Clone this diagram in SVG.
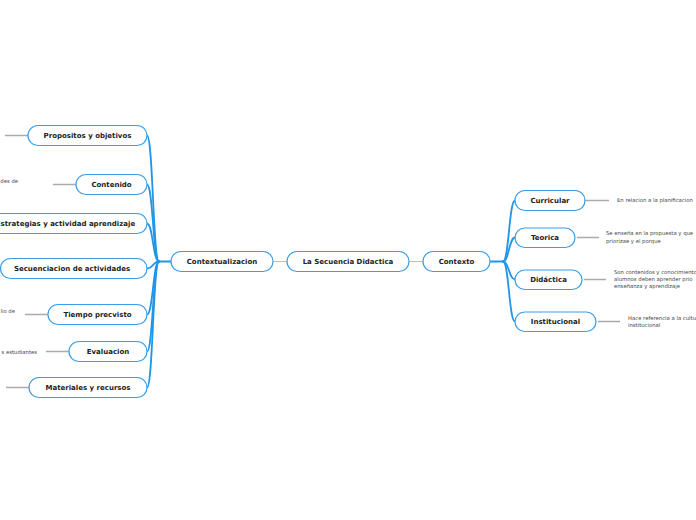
<svg xmlns="http://www.w3.org/2000/svg" width="696" height="520" viewBox="0 0 696 520">
<style>
.n rect{fill:#fff;stroke:#3a9de6;stroke-width:1.2}
.n text{font-family:"DejaVu Sans",Verdana,sans-serif;font-weight:bold;font-size:7px;fill:#222;text-anchor:middle;dominant-baseline:central}
.b{fill:none;stroke:#2196e8;stroke-width:1.8;stroke-linecap:round}
.c{fill:none;stroke:#9cc8ec;stroke-width:1.2}
.l{fill:none;stroke:#aaaaaa;stroke-width:1.3}
.t{font-family:"DejaVu Sans",Verdana,sans-serif;font-size:5.3px;fill:#444}
</style>
<rect width="696" height="520" fill="#fff"/>
<g id="connectors">
<path class="c" d="M273,261.5 L287,261.5 M409,261.5 L423,261.5"/>
<path class="b" d="M171,261.5 L159,261.5"/>
<path class="b" d="M159,261.5 C153,261.5 153,135.5 147,135.5"/>
<path class="b" d="M159,261.5 C153,261.5 153,184.5 147,184.5"/>
<path class="b" d="M159,261.5 C153,261.5 153,223.5 147,223.5"/>
<path class="b" d="M159,261.5 C153,261.5 153,268.5 147,268.5"/>
<path class="b" d="M159,261.5 C153,261.5 153,314.5 147,314.5"/>
<path class="b" d="M159,261.5 C153,261.5 153,351.5 147,351.5"/>
<path class="b" d="M159,261.5 C153,261.5 153,387.5 147,387.5"/>
<path class="b" d="M490,261.5 L503,261.5"/>
<path class="b" d="M503,261.5 C509,261.5 509,200.5 515,200.5"/>
<path class="b" d="M503,261.5 C509,261.5 509,237.5 515,237.5"/>
<path class="b" d="M503,261.5 C509,261.5 509,279.5 515,279.5"/>
<path class="b" d="M503,261.5 C509,261.5 509,321.5 515,321.5"/>
<path class="l" d="M5,135.5 L28,135.5 M53,184.5 L76,184.5 M25,314.5 L48,314.5 M46,351.5 L69,351.5 M6,387.5 L29,387.5"/>
<path class="l" d="M585,200.5 L609,200.5 M577,237.5 L599,237.5 M584,279.5 L606,279.5 M598,321.5 L620,321.5"/>
</g>
<g id="central" class="n"><rect x="287" y="251.5" width="122" height="20" rx="10"/><text x="348" y="262">La Secuencia Didactica</text></g>
<g id="contextualizacion" class="n"><rect x="171" y="251.5" width="102" height="20" rx="10"/><text x="222" y="262">Contextualizacion</text></g>
<g id="contexto" class="n"><rect x="423" y="251.5" width="67" height="20" rx="10"/><text x="456.5" y="262">Contexto</text></g>
<g id="propositos" class="n"><rect x="28" y="125.5" width="119" height="20" rx="10"/><text x="87.5" y="136">Propositos y objetivos</text></g>
<g id="contenido" class="n"><rect x="76" y="174.5" width="71" height="20" rx="10"/><text x="111.5" y="185">Contenido</text></g>
<g id="estrategias" class="n"><rect x="-16" y="213.5" width="163" height="20" rx="10"/><text x="65.5" y="224">Estrategias y actividad aprendizaje</text></g>
<g id="secuenciacion" class="n"><rect x="0.5" y="258.5" width="146.5" height="20" rx="10"/><text x="72" y="269">Secuenciacion de actividades</text></g>
<g id="tiempo" class="n"><rect x="48" y="304.5" width="99" height="20" rx="10"/><text x="97.5" y="315">Tiempo precvisto</text></g>
<g id="evaluacion" class="n"><rect x="69" y="341.5" width="78" height="20" rx="10"/><text x="108" y="352">Evaluacion</text></g>
<g id="materiales" class="n"><rect x="29" y="377.5" width="118" height="20" rx="10"/><text x="88" y="388">Materiales y recursos</text></g>
<g id="curricular" class="n"><rect x="515" y="190.5" width="70" height="20" rx="10"/><text x="550" y="201">Curricular</text></g>
<g id="teorica" class="n"><rect x="515" y="228" width="60" height="19.5" rx="9.75"/><text x="545" y="238">Teorica</text></g>
<g id="didactica" class="n"><rect x="515" y="270" width="67" height="19.5" rx="9.75"/><text x="548.5" y="280">Didáctica</text></g>
<g id="institucional" class="n"><rect x="515" y="312" width="81" height="19.5" rx="9.75"/><text x="555.5" y="322">Institucional</text></g>
<g id="leaves">
<text class="t" x="18" y="183" text-anchor="end">des de</text>
<text class="t" x="15" y="313" text-anchor="end">lio de</text>
<text class="t" x="37" y="354" text-anchor="end">s estudiantes</text>
<text class="t" x="617" y="202">En relacion a la planificacion</text>
<text class="t" x="606" y="235">Se enseña en la propuesta y que</text>
<text class="t" x="606" y="243">priorizae y el porque</text>
<text class="t" x="614" y="274">Son contenidos y conocimientos</text>
<text class="t" x="614" y="281">alumnos deben aprender prio</text>
<text class="t" x="614" y="288">enseñanza y aprendizaje</text>
<text class="t" x="628" y="320">Hace referencia a la cultura</text>
<text class="t" x="628" y="327">institucional</text>
</g>
</svg>
